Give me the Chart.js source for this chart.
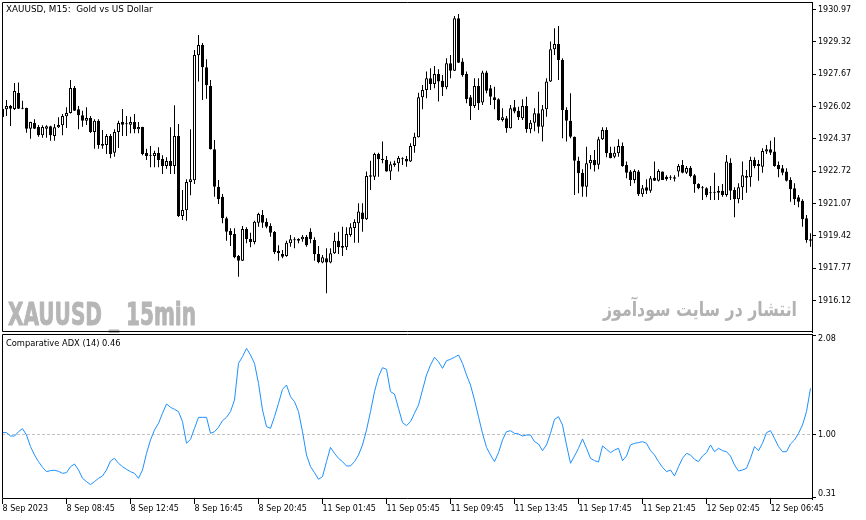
<!DOCTYPE html>
<html lang="en">
<head>
<meta charset="utf-8">
<title>XAUUSD M15</title>
<script src="https://cdn.jsdelivr.net/npm/chart.js@4/dist/chart.umd.min.js"></script>
<style>
  body { margin: 0; background: #fff; }
  .wrap { position: relative; width: 866px; height: 520px; overflow: hidden; }
  .wrap canvas { position: absolute; left: 0; }
</style>
</head>
<body>
<div class="wrap">
  <canvas id="price" width="866" height="333" style="top:0"></canvas>
  <canvas id="adx" width="866" height="197" style="top:323px"></canvas>
</div>
<script>
// 15 minute bars, 8 Sep 04:45 .. 12 Sep 07:15
const opens = [
  1925.89, 1925.88, 1926.05, 1925.89, 1926.71, 1925.93, 1925.95, 1924.89, 1925.18, 1924.98,
  1924.55, 1924.89, 1925.01, 1924.52, 1924.96, 1925.06, 1925.52, 1925.69, 1926.97, 1925.88,
  1925.57, 1925.30, 1925.43, 1924.72, 1925.30, 1924.11, 1924.06, 1924.52, 1923.66, 1924.72,
  1925.23, 1925.13, 1925.09, 1925.23, 1924.86, 1924.98, 1923.65, 1923.53, 1923.50, 1923.65,
  1923.34, 1922.99, 1923.24, 1922.99, 1924.52, 1920.44, 1920.73, 1922.17, 1922.26, 1928.63,
  1929.16, 1928.02, 1927.07, 1923.84, 1921.93, 1921.42, 1920.32, 1919.67, 1919.52, 1918.40,
  1918.15, 1919.77, 1919.26, 1919.11, 1920.09, 1920.49, 1920.14, 1919.92, 1919.62, 1918.66,
  1918.50, 1918.40, 1919.04, 1919.21, 1919.26, 1919.25, 1919.38, 1919.63, 1919.21, 1918.50,
  1918.07, 1918.28, 1918.07, 1918.53, 1919.17, 1918.90, 1918.84, 1919.47, 1919.82, 1920.06,
  1920.62, 1920.27, 1922.52, 1922.44, 1923.60, 1923.36, 1923.29, 1922.70, 1923.12, 1923.12,
  1923.34, 1923.34, 1923.21, 1924.01, 1924.45, 1926.49, 1926.86, 1927.46, 1927.17, 1927.68,
  1927.34, 1927.00, 1928.23, 1927.85, 1930.52, 1928.31, 1927.68, 1926.49, 1926.05, 1927.07,
  1926.22, 1927.75, 1926.95, 1926.49, 1926.39, 1925.33, 1925.42, 1924.91, 1925.98, 1925.81,
  1925.42, 1926.05, 1924.86, 1925.19, 1925.67, 1924.99, 1925.88, 1927.29, 1928.94, 1929.21,
  1928.39, 1925.84, 1925.30, 1924.48, 1923.26, 1922.64, 1921.93, 1923.12, 1923.29, 1923.05,
  1924.35, 1924.82, 1923.66, 1923.46, 1923.63, 1924.01, 1923.04, 1922.70, 1922.27, 1922.70,
  1921.54, 1921.90, 1921.73, 1922.39, 1922.24, 1922.70, 1922.44, 1922.41, 1922.41, 1922.70,
  1923.04, 1922.64, 1922.90, 1922.52, 1922.07, 1921.86, 1921.85, 1921.61, 1921.64, 1921.73,
  1921.73, 1921.51, 1923.15, 1921.76, 1921.29, 1921.90, 1922.48, 1922.41, 1923.29, 1923.09,
  1922.95, 1923.72, 1923.84, 1923.72, 1923.04, 1922.87, 1922.70, 1922.27, 1921.85, 1921.39,
  1921.22, 1920.32, 1919.25
];
const highs = [
  1925.95, 1926.35, 1926.10, 1927.22, 1927.24, 1926.32, 1925.96, 1925.24, 1925.37, 1925.08,
  1925.06, 1925.06, 1925.04, 1925.13, 1925.47, 1925.64, 1925.98, 1927.37, 1927.07, 1926.05,
  1925.81, 1925.98, 1925.54, 1925.37, 1925.37, 1924.82, 1924.62, 1924.62, 1924.86, 1925.30,
  1925.89, 1925.54, 1925.50, 1925.64, 1925.23, 1924.99, 1923.87, 1924.01, 1923.77, 1923.94,
  1923.53, 1923.43, 1924.96, 1926.08, 1925.13, 1921.76, 1922.31, 1924.86, 1928.90, 1929.67,
  1929.26, 1928.43, 1927.37, 1924.31, 1922.27, 1921.56, 1920.40, 1919.81, 1919.81, 1918.45,
  1919.92, 1919.86, 1919.58, 1920.19, 1920.60, 1920.74, 1920.32, 1920.06, 1919.67, 1918.95,
  1918.70, 1919.17, 1919.47, 1919.35, 1919.30, 1919.47, 1919.47, 1919.81, 1919.35, 1918.90,
  1918.45, 1918.79, 1918.79, 1919.58, 1919.63, 1919.89, 1919.86, 1920.06, 1920.27, 1921.08,
  1921.08, 1922.70, 1923.26, 1923.66, 1923.66, 1924.23, 1923.50, 1923.21, 1923.26, 1923.50,
  1923.43, 1923.50, 1924.14, 1924.68, 1926.72, 1927.12, 1927.80, 1927.97, 1928.09, 1927.92,
  1927.63, 1928.48, 1928.65, 1930.64, 1930.74, 1928.48, 1927.80, 1926.61, 1927.46, 1927.46,
  1927.85, 1927.85, 1927.12, 1927.03, 1926.44, 1925.93, 1925.54, 1926.10, 1926.35, 1926.01,
  1926.39, 1926.52, 1925.33, 1925.93, 1926.77, 1926.10, 1927.46, 1929.33, 1930.01, 1930.13,
  1928.48, 1925.98, 1926.70, 1924.49, 1923.46, 1922.82, 1923.97, 1923.55, 1923.80, 1924.48,
  1924.96, 1924.96, 1923.97, 1923.97, 1924.35, 1924.18, 1923.21, 1922.78, 1922.82, 1922.78,
  1922.02, 1922.31, 1922.48, 1923.21, 1922.82, 1922.71, 1922.52, 1922.52, 1922.52, 1923.09,
  1923.29, 1922.99, 1922.99, 1922.58, 1922.10, 1921.97, 1921.90, 1921.97, 1922.64, 1921.97,
  1922.07, 1923.55, 1923.38, 1921.90, 1922.10, 1923.21, 1922.78, 1923.46, 1923.43, 1923.29,
  1923.89, 1924.06, 1924.28, 1924.45, 1923.21, 1923.04, 1922.87, 1922.41, 1922.10, 1921.51,
  1921.29, 1920.49, 1919.55
];
const lows = [
  1925.43, 1925.54, 1925.03, 1925.84, 1925.89, 1925.88, 1924.68, 1924.38, 1924.87, 1924.48,
  1924.43, 1924.43, 1924.28, 1924.28, 1924.92, 1924.55, 1924.92, 1925.66, 1925.79, 1924.86,
  1924.99, 1925.08, 1924.67, 1923.87, 1923.87, 1923.87, 1923.60, 1923.38, 1923.46, 1923.90,
  1924.52, 1924.52, 1924.65, 1924.65, 1924.65, 1923.53, 1923.29, 1922.92, 1922.92, 1922.92,
  1922.58, 1922.85, 1922.58, 1922.58, 1920.38, 1920.23, 1920.19, 1921.49, 1922.07, 1927.29,
  1926.35, 1926.42, 1923.83, 1921.42, 1921.05, 1920.06, 1919.17, 1918.90, 1918.28, 1917.34,
  1918.14, 1919.04, 1918.84, 1919.00, 1919.89, 1919.84, 1919.81, 1919.38, 1918.50, 1918.15,
  1918.28, 1918.36, 1918.87, 1918.79, 1919.04, 1919.12, 1918.87, 1919.04, 1918.15, 1918.02,
  1918.02, 1916.49, 1918.02, 1918.50, 1918.50, 1918.40, 1918.70, 1919.38, 1919.07, 1919.07,
  1919.63, 1920.23, 1921.76, 1922.27, 1922.44, 1923.12, 1922.69, 1922.27, 1922.95, 1922.70,
  1923.04, 1922.95, 1923.19, 1923.66, 1924.44, 1925.88, 1926.44, 1926.86, 1926.95, 1926.27,
  1926.56, 1926.90, 1927.46, 1927.83, 1928.24, 1927.54, 1926.18, 1925.33, 1925.95, 1925.84,
  1926.10, 1926.70, 1926.10, 1925.88, 1925.30, 1925.25, 1924.68, 1924.90, 1925.67, 1925.33,
  1925.33, 1924.68, 1924.65, 1924.76, 1924.65, 1924.23, 1925.50, 1927.27, 1928.65, 1927.37,
  1924.40, 1924.23, 1924.40, 1921.51, 1921.59, 1921.42, 1921.42, 1922.82, 1922.70, 1922.82,
  1924.31, 1923.43, 1923.38, 1923.38, 1923.46, 1922.95, 1922.36, 1921.97, 1922.10, 1921.46,
  1921.42, 1921.56, 1921.62, 1922.22, 1922.19, 1922.27, 1922.24, 1922.27, 1922.19, 1922.44,
  1922.61, 1922.58, 1922.41, 1921.62, 1921.80, 1921.25, 1921.39, 1921.25, 1921.25, 1921.25,
  1921.42, 1921.42, 1921.25, 1920.37, 1921.08, 1921.25, 1921.62, 1921.93, 1922.87, 1922.24,
  1922.64, 1923.60, 1923.55, 1922.95, 1922.41, 1922.52, 1922.19, 1921.16, 1921.00, 1920.88,
  1919.89, 1919.07, 1918.87
];
const closes = [
  1925.49, 1926.05, 1925.91, 1926.81, 1925.91, 1925.91, 1924.89, 1925.23, 1924.89, 1924.55,
  1924.98, 1925.01, 1924.55, 1924.96, 1925.08, 1925.54, 1925.69, 1926.97, 1925.81, 1925.57,
  1925.30, 1925.43, 1924.72, 1925.30, 1924.06, 1924.02, 1924.52, 1923.60, 1924.72, 1925.18,
  1925.09, 1925.11, 1925.23, 1924.86, 1924.98, 1923.60, 1923.50, 1923.51, 1923.65, 1923.29,
  1922.99, 1923.24, 1922.99, 1924.52, 1920.44, 1920.74, 1922.17, 1922.31, 1928.65, 1929.16,
  1928.02, 1927.10, 1923.84, 1921.93, 1921.29, 1920.32, 1919.63, 1919.47, 1918.33, 1918.15,
  1919.77, 1919.26, 1919.11, 1920.14, 1920.54, 1920.09, 1919.89, 1919.58, 1918.60, 1918.53,
  1918.36, 1919.07, 1919.25, 1919.20, 1919.17, 1919.38, 1918.95, 1919.25, 1918.48, 1918.09,
  1918.33, 1918.07, 1918.53, 1919.17, 1918.84, 1918.82, 1919.52, 1919.86, 1920.13, 1920.67,
  1920.27, 1922.48, 1922.44, 1923.60, 1923.33, 1923.29, 1922.70, 1923.07, 1923.04, 1923.39,
  1923.33, 1923.21, 1924.01, 1924.48, 1926.49, 1926.86, 1927.46, 1927.17, 1927.68, 1927.29,
  1927.00, 1928.23, 1927.85, 1930.52, 1928.25, 1927.63, 1926.39, 1926.05, 1927.07, 1926.18,
  1927.75, 1926.83, 1926.52, 1926.35, 1925.33, 1925.47, 1924.91, 1925.93, 1925.76, 1925.47,
  1926.05, 1924.86, 1925.19, 1925.67, 1924.99, 1925.88, 1927.29, 1928.94, 1929.21, 1928.39,
  1925.84, 1925.30, 1924.48, 1923.26, 1922.61, 1921.93, 1923.12, 1923.29, 1923.02, 1924.35,
  1924.82, 1923.63, 1923.38, 1923.66, 1924.01, 1922.99, 1922.64, 1922.27, 1922.73, 1921.54,
  1921.85, 1921.73, 1922.36, 1922.24, 1922.73, 1922.27, 1922.31, 1922.39, 1922.34, 1922.99,
  1922.64, 1922.88, 1922.48, 1922.05, 1921.85, 1921.85, 1921.51, 1921.59, 1921.62, 1921.62,
  1921.51, 1923.21, 1921.73, 1921.29, 1921.90, 1922.51, 1922.39, 1923.29, 1922.99, 1922.99,
  1923.75, 1923.84, 1923.66, 1922.99, 1922.82, 1922.64, 1922.24, 1921.80, 1921.29, 1921.16,
  1920.27, 1919.21, 1919.17
];
// Comparative ADX (14), one value per bar
const adx = [
  1.020, 1.020, 0.983, 0.983, 1.030, 1.063, 0.994, 0.868, 0.777, 0.705,
  0.643, 0.596, 0.607, 0.611, 0.600, 0.578, 0.585, 0.650, 0.679, 0.614,
  0.524, 0.488, 0.455, 0.488, 0.524, 0.549, 0.614, 0.712, 0.741, 0.687,
  0.650, 0.621, 0.596, 0.578, 0.524, 0.614, 0.795, 0.940, 1.049, 1.121,
  1.230, 1.331, 1.295, 1.273, 1.248, 1.139, 0.904, 0.947, 1.067, 1.186,
  1.186, 1.186, 1.012, 1.030, 1.078, 1.150, 1.186, 1.248, 1.374, 1.772,
  1.845, 1.935, 1.863, 1.772, 1.555, 1.266, 1.085, 1.067, 1.193, 1.338,
  1.490, 1.537, 1.410, 1.356, 1.248, 1.030, 0.777, 0.650, 0.585, 0.513,
  0.542, 0.705, 0.860, 0.795, 0.741, 0.705, 0.658, 0.658, 0.705, 0.777,
  0.886, 1.049, 1.248, 1.465, 1.628, 1.725, 1.707, 1.465, 1.439, 1.284,
  1.128, 1.096, 1.139, 1.230, 1.320, 1.483, 1.646, 1.754, 1.838, 1.790,
  1.718, 1.801, 1.816, 1.838, 1.863, 1.772, 1.646, 1.537, 1.374, 1.193,
  1.012, 0.860, 0.777, 0.705, 0.802, 0.940, 1.030, 1.041, 1.012, 1.005,
  0.983, 0.994, 0.994, 0.922, 0.897, 0.824, 0.886, 1.012, 1.164, 1.193,
  1.103, 0.886, 0.687, 0.766, 0.850, 0.951, 0.850, 0.741, 0.716, 0.701,
  0.875, 0.839, 0.802, 0.831, 0.850, 0.716, 0.766, 0.886, 0.904, 0.911,
  0.922, 0.904, 0.824, 0.777, 0.705, 0.643, 0.596, 0.614, 0.549, 0.650,
  0.741, 0.795, 0.777, 0.730, 0.705, 0.766, 0.802, 0.886, 0.813, 0.850,
  0.824, 0.813, 0.766, 0.669, 0.603, 0.614, 0.632, 0.741, 0.868, 0.824,
  0.904, 1.020, 1.041, 0.958, 0.868, 0.813, 0.813, 0.897, 0.940, 1.012,
  1.103, 1.248, 1.501
];
const adxLevel = 1.00;

const priceTicks = [1916.12, 1917.77, 1919.42, 1921.07, 1922.72, 1924.37, 1926.02, 1927.67, 1929.32, 1930.97];
const adxTicks = [0.31, 1.00, 2.08];
const timeTickBars = [0, 16, 32, 48, 64, 80, 96, 112, 128, 144, 160, 176, 192];
const timeLabels = [
  '8 Sep 2023', '8 Sep 08:45', '8 Sep 12:45', '8 Sep 16:45', '8 Sep 20:45',
  '11 Sep 01:45', '11 Sep 05:45', '11 Sep 09:45', '11 Sep 13:45', '11 Sep 17:45',
  '11 Sep 21:45', '12 Sep 02:45', '12 Sep 06:45'
];

const priceTitle = 'XAUUSD, M15:  Gold vs US Dollar';
const adxTitle = 'Comparative ADX (14) 0.46';
const markLatin = 'XAUUSD _ 15min';
const markPersian = 'انتشار در سایت سودآموز';

Chart.defaults.font.family = 'DejaVu Sans';
Chart.defaults.color = '#000';

const xMin = -0.125;
const xMax = closes.length - 1 + 0.375;
const axisFont = { family: 'DejaVu Sans', size: 8, lineHeight: 1 };

const idx = closes.map((_, i) => i);
const bodyColors = idx.map(i => closes[i] >= opens[i] ? '#ffffff' : '#000000');

// black frame round the plot area, the right side is the y axis line
const frame = {
  id: 'frame',
  afterDatasetsDraw(chart) {
    const { ctx, chartArea: a } = chart;
    ctx.save();
    ctx.strokeStyle = '#000';
    ctx.lineWidth = 1;
    ctx.beginPath();
    ctx.moveTo(a.right, a.top + 0.5);
    ctx.lineTo(a.left + 0.5, a.top + 0.5);
    ctx.lineTo(a.left + 0.5, a.bottom - 0.5);
    ctx.lineTo(a.right, a.bottom - 0.5);
    ctx.stroke();
    ctx.restore();
  }
};

function fitText(ctx, text, x, y, width, align, stroke) {
  const w = ctx.measureText(text).width;
  ctx.save();
  ctx.translate(x, y);
  ctx.scale(width / w, 1);
  ctx.textAlign = align;
  ctx.fillText(text, 0, 0);
  if (stroke) {
    ctx.strokeStyle = ctx.fillStyle;
    ctx.lineWidth = stroke;
    ctx.lineJoin = 'round';
    ctx.strokeText(text, 0, 0);
  }
  ctx.restore();
}

const priceText = {
  id: 'priceText',
  beforeDatasetsDraw(chart) {
    const ctx = chart.ctx;
    ctx.save();
    ctx.fillStyle = '#b6b6b6';
    ctx.textBaseline = 'alphabetic';
    ctx.font = 'bold 32px "Liberation Sans Narrow", "DejaVu Sans Condensed", sans-serif';
    fitText(ctx, markLatin, 8, 325, 188, 'left', 0.9);
    ctx.fillStyle = '#b2b2b2';
    ctx.font = 'bold 20px "DejaVu Sans"';
    fitText(ctx, markPersian, 797, 316, 194, 'right', 0);
    ctx.restore();
  },
  afterDraw(chart) {
    const ctx = chart.ctx;
    ctx.save();
    ctx.fillStyle = '#000';
    ctx.font = '8.8px "DejaVu Sans"';
    ctx.textBaseline = 'middle';
    ctx.fillText(priceTitle, 6, 10);
    ctx.restore();
  }
};

const adxText = {
  id: 'adxText',
  afterDraw(chart) {
    const ctx = chart.ctx;
    ctx.save();
    ctx.fillStyle = '#000';
    ctx.font = '8.3px "DejaVu Sans"';
    ctx.textBaseline = 'middle';
    ctx.fillText(adxTitle, 6, 21);
    ctx.restore();
  }
};

// edge labels of the indicator scale sit inside the panel, as in the terminal
function insideLabel(v, i, ticks) {
  const text = v.toFixed(2);
  if (i === ticks.length - 1) return ['', text];
  if (i === 0) return [text, ''];
  return text;
}

function rightAxis(min, max, ticks, labelFn) {
  return {
    position: 'right',
    min: min,
    max: max,
    bounds: 'data',
    afterBuildTicks: s => { s.ticks = ticks.map(v => ({ value: v })); },
    afterFit: s => { s.width = 54; s.paddingTop = 0; s.paddingBottom = 0; },
    grid: { drawOnChartArea: false, tickLength: 4, color: '#000' },
    border: { color: '#000' },
    ticks: { color: '#000', font: axisFont, padding: 2, autoSkip: false, callback: labelFn }
  };
}

new Chart(document.getElementById('price'), {
  type: 'bar',
  data: {
    datasets: [
      {
        label: 'body',
        data: idx.map(i => ({ x: i, y: [opens[i], closes[i]] })),
        backgroundColor: bodyColors,
        borderColor: '#000',
        borderWidth: 1,
        borderSkipped: false,
        minBarLength: 1,
        inflateAmount: 0,
        grouped: false,
        barPercentage: 1,
        categoryPercentage: 1,
        maxBarThickness: 3,
        order: 0
      },
      {
        label: 'wick',
        data: idx.map(i => ({ x: i, y: [lows[i], highs[i]] })),
        backgroundColor: '#000',
        borderWidth: 0,
        inflateAmount: 0,
        grouped: false,
        barPercentage: 1,
        categoryPercentage: 1,
        maxBarThickness: 1,
        order: 1
      }
    ]
  },
  options: {
    responsive: false,
    animation: false,
    devicePixelRatio: 1,
    events: [],
    layout: { padding: { left: 2, top: 2, right: 0, bottom: 1 } },
    plugins: { legend: { display: false }, tooltip: { enabled: false } },
    scales: {
      x: { type: 'linear', display: false, min: xMin, max: xMax, bounds: 'data', offset: false, grid: { offset: false } },
      y: rightAxis(1914.52, 1931.35, priceTicks, v => v.toFixed(2))
    }
  },
  plugins: [priceText, frame]
});

new Chart(document.getElementById('adx'), {
  type: 'line',
  data: {
    datasets: [
      {
        label: 'ADX',
        data: idx.map(i => ({ x: i, y: adx[i] })),
        borderColor: '#1e90ff',
        borderWidth: 1,
        pointRadius: 0,
        tension: 0,
        fill: false,
        order: 0
      },
      {
        label: 'level',
        data: [{ x: xMin, y: adxLevel }, { x: xMax, y: adxLevel }],
        borderColor: '#c0c0c0',
        borderWidth: 1,
        borderDash: [3, 2],
        pointRadius: 0,
        fill: false,
        order: 1
      }
    ]
  },
  options: {
    responsive: false,
    animation: false,
    devicePixelRatio: 1,
    events: [],
    layout: { padding: { left: 2, top: 11, right: 0, bottom: 0 } },
    plugins: { legend: { display: false }, tooltip: { enabled: false } },
    scales: {
      x: {
        type: 'linear',
        min: xMin,
        max: xMax,
        bounds: 'data',
        offset: false,
        afterBuildTicks: s => { s.ticks = timeTickBars.map(v => ({ value: v })); },
        afterFit: s => { s.height = 21; s.paddingLeft = 0; s.paddingRight = 0; },
        grid: { drawOnChartArea: false, tickLength: 5, color: '#000' },
        border: { display: false },
        ticks: {
          color: '#000', font: axisFont, padding: 1, align: 'start',
          autoSkip: false, maxRotation: 0, callback: (v, i) => timeLabels[i]
        }
      },
      y: rightAxis(0.299, 2.091, adxTicks, insideLabel)
    }
  },
  plugins: [adxText, frame]
});
</script>
</body>
</html>
